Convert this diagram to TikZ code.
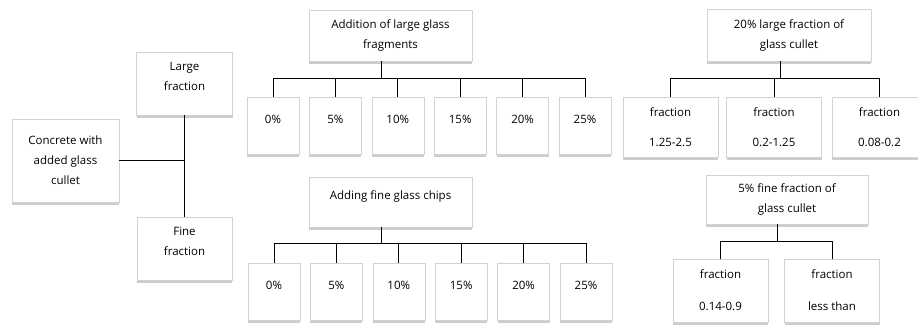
\documentclass[tikz,border=0pt]{standalone}
\usepackage{fontspec}
\setmainfont{Open Sans}
\usetikzlibrary{shadows}

\begin{document}
\begin{tikzpicture}[x=1pt, y=-1pt,
    box/.style={rectangle, draw=gray!35, fill=white, line width=0.6pt, align=center, inner sep=0pt, text=black, font=\fontsize{11.5}{20}\selectfont, drop shadow={shadow xshift=0pt, shadow yshift=-2.5pt, fill=black!40}},
    pct/.style={box, minimum width=52pt, text height=26pt, text depth=31pt},
    frac/.style={box, minimum width=95pt, minimum height=#1},
    link/.style={line width=1pt, black}
]
\useasboundingbox (0,0) rectangle (918,325);

% Main split
\node[box, minimum width=107pt, minimum height=83pt] (root) at (65.5,160.5) {Concrete with\\added glass\\cullet};
\node[box, minimum width=96pt, text height=38.5pt, text depth=24.5pt] (large) at (184.5,83.5) {Large\\fraction};
\node[box, minimum width=95pt, text height=38.5pt, text depth=24.5pt] (fine) at (184.5,248.5) {Fine\\fraction};

\draw[link] (large.south) -- (fine.north);
\draw[link] (root.east) -- (root.east -| large.south);

% Large glass fragments
\node[box, minimum width=163pt, minimum height=51pt] (addl) at (390.5,35.5) {Addition of large glass\\fragments};
\foreach \p [count=\i from 0] in {0,5,10,15,20,25}
    \node[pct] (lp\i) at (273+62.4*\i,125.5) {\p\%};

\draw[link] ([xshift=-9pt]addl.south) -- ++(0,18);
\draw[link] (lp0.north) -- ++(0,-18) -| (lp5.north);
\foreach \i in {1,...,4}
    \draw[link] (lp\i.north) -- ++(0,-18);

% Fine glass chips
\node[box, minimum width=163pt, text height=22.5pt, text depth=27.5pt] (addf) at (390.5,202) {Adding fine glass chips};
\foreach \p [count=\i from 0] in {0,5,10,15,20,25}
    \node[pct] (fp\i) at (274+62.4*\i,291.5) {\p\%};

\draw[link] ([xshift=-9.5pt]addf.south) -- ++(0,17);
\draw[link] (fp0.north) -- ++(0,-19) -| (fp5.north);
\foreach \i in {1,...,4}
    \draw[link] (fp\i.north) -- ++(0,-19);

% 20% large fraction
\node[box, minimum width=164pt, minimum height=52pt] (big20) at (789,35) {20\% large fraction of\\glass cullet};
\node[frac=60pt] (gr1) at (670.5,127) {fraction\\[10pt]1.25-2.5};
\node[frac=60pt] (gr2) at (774,127) {fraction\\[10pt]0.2-1.25};
\node[frac=60pt] (gr3) at (879.5,127) {fraction\\[10pt]0.08-0.2};

\draw[link] ([xshift=-9pt]big20.south) -- ++(0,18);
\draw[link] (gr1.north) -- ++(0,-18) -| (gr3.north);
\draw[link] (gr2.north) -- ++(0,-18);

% 5% fine fraction
\node[box, minimum width=162pt, minimum height=49pt] (fine5) at (787,199.5) {5\% fine fraction of\\glass cullet};
\node[frac=63pt] (sm1) at (720.5,290.5) {fraction\\[12pt]0.14-0.9};
\node[frac=63pt] (sm2) at (832,290.5) {fraction\\[12pt]less than};

\draw[link] ([xshift=-10pt]fine5.south) -- ++(0,18);
\draw[link] (sm1.north) -- ++(0,-17) -| (sm2.north);

\end{tikzpicture}
\end{document}
